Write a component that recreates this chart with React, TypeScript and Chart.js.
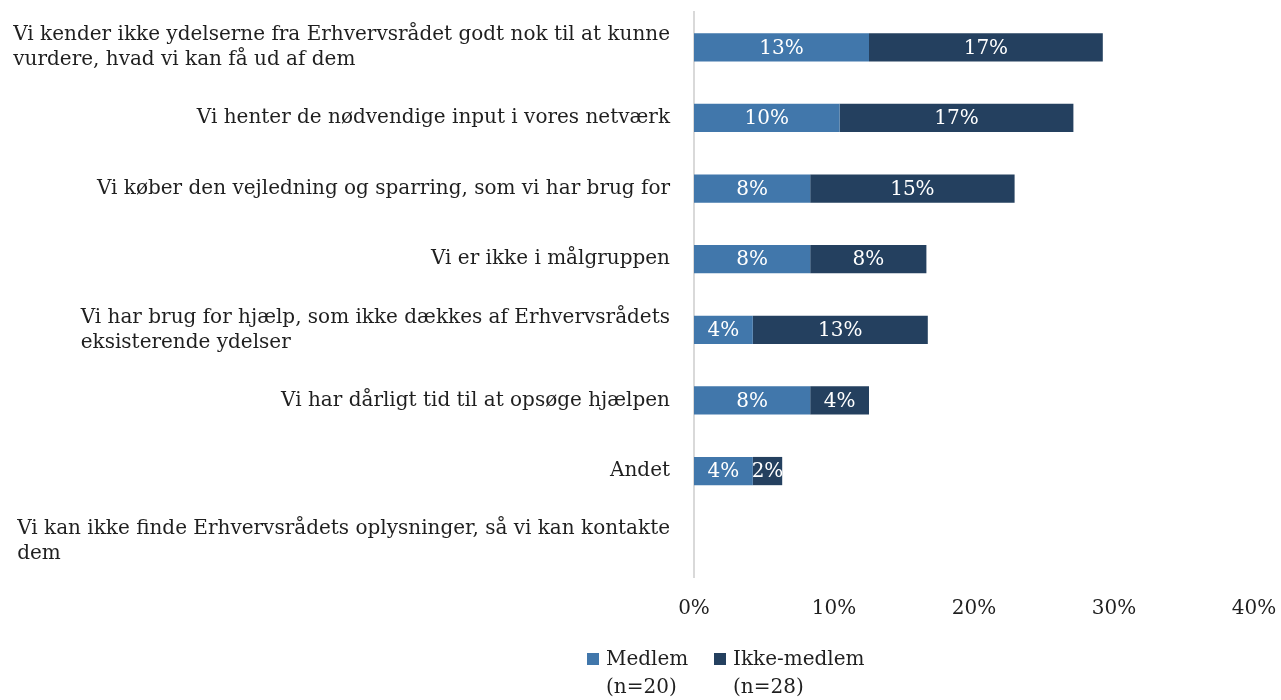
import React, { useEffect, useRef } from "react";
import { Chart, registerables } from "chart.js";

Chart.register(...registerables);

const categories: string[][] = [
  ["Vi kender ikke ydelserne fra Erhvervsrådet godt nok til at kunne", "vurdere, hvad vi kan få ud af dem"],
  ["Vi henter de nødvendige input i vores netværk"],
  ["Vi køber den vejledning og sparring, som vi har brug for"],
  ["Vi er ikke i målgruppen"],
  ["Vi har brug for hjælp, som ikke dækkes af Erhvervsrådets", "eksisterende ydelser"],
  ["Vi har dårligt tid til at opsøge hjælpen"],
  ["Andet"],
  ["Vi kan ikke finde Erhvervsrådets oplysninger, så vi kan kontakte", "dem"],
];

const medlem = [12.5, 10.4, 8.3, 8.3, 4.2, 8.3, 4.2, 0];
const ikkeMedlem = [16.7, 16.7, 14.6, 8.3, 12.5, 4.2, 2.1, 0];

const seriesLabels: string[][] = [
  ["Medlem", "(n=20)"],
  ["Ikke-medlem", "(n=28)"],
];
const seriesColors = ["#4177AB", "#24405F"];
const xTicks = [0, 10, 20, 30, 40];

const FONT_FAMILY = '"DejaVu Serif", serif';
const TEXT_COLOR = "#1f1f1f";

export default function App() {
  const canvasRef = useRef<HTMLCanvasElement | null>(null);

  useEffect(() => {
    const canvas = canvasRef.current;
    if (!canvas) return;

    const labelsPlugin = {
      id: "customLabels",
      afterDatasetsDraw(chart: any) {
        const ctx = chart.ctx;
        ctx.save();
        ctx.font = `20px ${FONT_FAMILY}`;
        ctx.fillStyle = "#ffffff";
        ctx.textAlign = "center";
        ctx.textBaseline = "middle";
        chart.data.datasets.forEach((ds: any, di: number) => {
          const meta = chart.getDatasetMeta(di);
          meta.data.forEach((el: any, i: number) => {
            const v = ds.data[i];
            if (!v) return;
            const cx = (el.x + el.base) / 2;
            ctx.fillText(`${Math.round(v)}%`, cx, el.y + 1);
          });
        });
        ctx.restore();
      },
      afterDraw(chart: any) {
        const ctx = chart.ctx;
        const yScale = chart.scales.y;
        const area = chart.chartArea;
        ctx.save();
        ctx.font = `20px ${FONT_FAMILY}`;
        ctx.fillStyle = TEXT_COLOR;
        ctx.textAlign = "left";
        ctx.textBaseline = "middle";
        const rightEdge = area.left - 24;
        const lh = 25;
        categories.forEach((lines, i) => {
          const y = yScale.getPixelForValue(i);
          const w = Math.max(...lines.map((l) => ctx.measureText(l).width));
          const x0 = rightEdge - w;
          const y0 = y - ((lines.length - 1) * lh) / 2;
          lines.forEach((l, k) => ctx.fillText(l, x0, y0 + k * lh));
        });
        // legend
        const legendX = [587, 714];
        seriesLabels.forEach((lines, si) => {
          ctx.fillStyle = seriesColors[si];
          ctx.fillRect(legendX[si], 653, 12, 12);
          ctx.fillStyle = TEXT_COLOR;
          lines.forEach((l, k) => ctx.fillText(l, legendX[si] + 19, 660 + k * 28));
        });
        ctx.restore();
      },
    };

    const chart = new Chart(canvas, {
      type: "bar",
      data: {
        labels: categories.map((c) => c.join(" ")),
        datasets: [
          {
            label: seriesLabels[0].join(" "),
            data: medlem,
            backgroundColor: seriesColors[0],
            barPercentage: 0.4,
            categoryPercentage: 1,
          },
          {
            label: seriesLabels[1].join(" "),
            data: ikkeMedlem,
            backgroundColor: seriesColors[1],
            barPercentage: 0.4,
            categoryPercentage: 1,
          },
        ],
      },
      options: {
        indexAxis: "y",
        responsive: false,
        animation: false,
        layout: { padding: { top: 12, bottom: 63, left: 0, right: 27 } },
        plugins: {
          legend: { display: false },
          tooltip: { enabled: false },
        },
        scales: {
          x: {
            stacked: true,
            min: 0,
            max: 40,
            grid: { display: false, drawTicks: false },
            border: { display: false },
            afterBuildTicks: (scale: any) => {
              scale.ticks = xTicks.map((v) => ({ value: v }));
            },
            afterFit: (scale: any) => {
              scale.height = 60;
              scale.paddingRight = 0;
              scale.paddingLeft = 0;
            },
            ticks: {
              padding: 20,
              color: TEXT_COLOR,
              font: { family: FONT_FAMILY, size: 20 },
              callback: (v: any) => `${v}%`,
              maxRotation: 0,
            },
          },
          y: {
            stacked: true,
            grid: { display: false, drawTicks: false },
            border: { display: true, color: "#d9d9d9", width: 2 },
            ticks: { display: false },
            afterFit: (scale: any) => {
              scale.width = 694;
            },
          },
        },
      },
      plugins: [labelsPlugin],
    } as any);

    return () => chart.destroy();
  }, []);

  return (
    <canvas
      ref={canvasRef}
      width={1281}
      height={700}
      style={{ position: "absolute", left: 0, top: 0, width: 1281, height: 700 }}
    />
  );
}
